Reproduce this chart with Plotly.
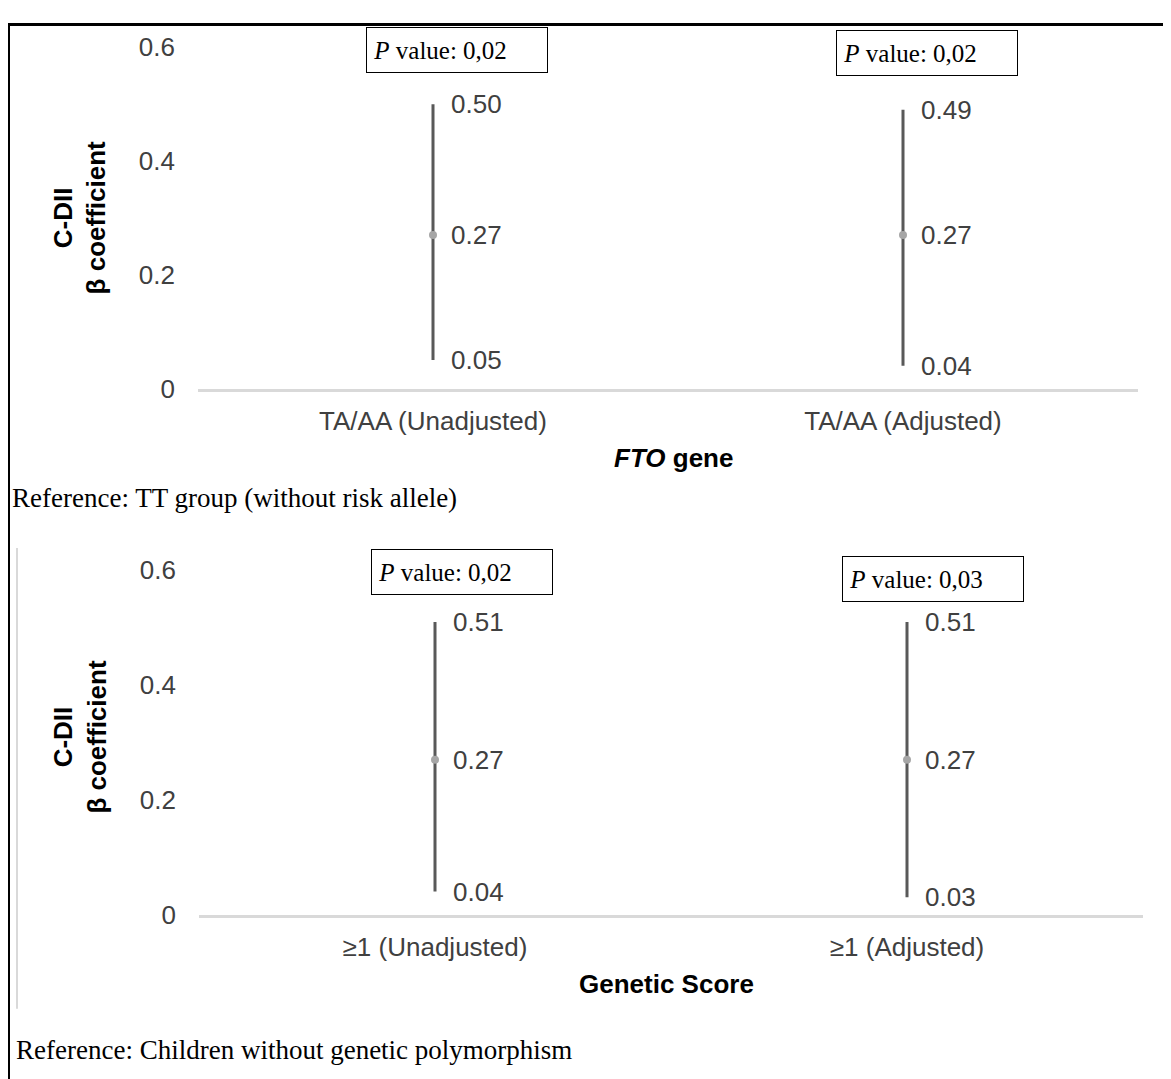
import plotly.graph_objects as go

W, H = 1171, 1079
OFF = 8  # page body margin offset

# ---------------- data ----------------
fto_categories = ["TA/AA (Unadjusted)", "TA/AA (Adjusted)"]
fto_beta = [0.27, 0.27]
fto_lower = [0.05, 0.04]
fto_upper = [0.50, 0.49]
fto_pvalues = ["0,02", "0,02"]

gs_categories = ["≥1 (Unadjusted)", "≥1 (Adjusted)"]
gs_beta = [0.27, 0.27]
gs_lower = [0.04, 0.03]
gs_upper = [0.51, 0.51]
gs_pvalues = ["0,02", "0,03"]

y_ticks = [0, 0.2, 0.4, 0.6]
y_ticktext = ["0", "0.2", "0.4", "0.6"]

SANS = "Liberation Sans, Arial, sans-serif"
SERIF = "Liberation Serif, Times New Roman, serif"
LABEL_COLOR = "#404040"
BAR_COLOR = "#595959"
AXIS_COLOR = "#d9d9d9"
FS = 26


def px_x(p):
    return (p - OFF) / W


def px_y(p):
    return 1 - (p - OFF) / H


fig = go.Figure()

panels = [
    dict(cats=fto_categories, beta=fto_beta, lo=fto_lower, hi=fto_upper, pv=fto_pvalues,
         xa="x", ya="y", pv_y=[0.596, 0.590], pv_shift=[24, 24]),
    dict(cats=gs_categories, beta=gs_beta, lo=gs_lower, hi=gs_upper, pv=gs_pvalues,
         xa="x2", ya="y2", pv_y=[0.597, 0.585], pv_shift=[27, 26]),
]

annotations = []
for pnl in panels:
    xs = list(range(len(pnl["cats"])))
    fig.add_trace(go.Scatter(
        x=xs, y=pnl["beta"], mode="markers",
        xaxis=pnl["xa"], yaxis=pnl["ya"],
        marker=dict(size=8, color="#a6a6a6"),
        error_y=dict(type="data", symmetric=False,
                     array=[h - b for h, b in zip(pnl["hi"], pnl["beta"])],
                     arrayminus=[b - l for b, l in zip(pnl["beta"], pnl["lo"])],
                     width=0, thickness=3, color=BAR_COLOR),
        showlegend=False, hoverinfo="skip",
    ))
    for i, x in enumerate(xs):
        for v in (pnl["hi"][i], pnl["beta"][i], pnl["lo"][i]):
            annotations.append(dict(
                x=x, y=v, xref=pnl["xa"], yref=pnl["ya"], text=f"{v:.2f}",
                showarrow=False, xanchor="left", yanchor="middle", xshift=16,
                font=dict(family=SANS, size=FS, color=LABEL_COLOR),
            ))
        annotations.append(dict(
            x=x, y=pnl["pv_y"][i], xref=pnl["xa"], yref=pnl["ya"],
            text=f"&nbsp;<i>P</i> value: {pnl['pv'][i]}",
            showarrow=False, xanchor="center", yanchor="middle", xshift=pnl["pv_shift"][i],
            width=178, height=42, align="left", valign="middle",
            bordercolor="black", borderwidth=1, borderpad=1, bgcolor="white",
            font=dict(family=SERIF, size=25, color="black"),
        ))

# axis titles and captions
annotations += [
    dict(x=px_x(80), y=px_y(209), xref="paper", yref="paper", text="<b>C-DII<br>β coefficient</b>",
         textangle=-90, showarrow=False, xanchor="center", yanchor="middle",
         font=dict(family=SANS, size=FS, color="black")),
    dict(x=px_x(80), y=px_y(743), xref="paper", yref="paper", text="<b>C-DII<br>β coefficient</b>",
         textangle=-90, showarrow=False, xanchor="center", yanchor="middle",
         font=dict(family=SANS, size=FS, color="black")),
    dict(x=px_x(673), y=px_y(455), xref="paper", yref="paper", text="<b><i>FTO</i> gene</b>",
         showarrow=False, xanchor="center", yanchor="middle",
         font=dict(family=SANS, size=FS, color="black")),
    dict(x=px_x(667), y=px_y(996), xref="paper", yref="paper", text="<b>Genetic Score</b>",
         showarrow=False, xanchor="center", yanchor="middle",
         font=dict(family=SANS, size=FS, color="black")),
    dict(x=px_x(10), y=px_y(497), xref="paper", yref="paper",
         text="Reference: TT group (without risk allele)",
         showarrow=False, xanchor="left", yanchor="middle",
         font=dict(family=SERIF, size=27, color="black")),
    dict(x=px_x(14), y=px_y(1064), xref="paper", yref="paper",
         text="Reference: Children without genetic polymorphism",
         showarrow=False, xanchor="left", yanchor="middle",
         font=dict(family=SERIF, size=27, color="black")),
]

shapes = [
    # outer frame
    dict(type="line", xref="paper", yref="paper", x0=px_x(8.5), x1=px_x(8.5), y0=-0.02, y1=px_y(8),
         line=dict(color="black", width=3)),
    dict(type="line", xref="paper", yref="paper", x0=px_x(7), x1=1.02, y0=px_y(9.5), y1=px_y(9.5),
         line=dict(color="black", width=3)),
    # inner chart-area edge of bottom panel
    dict(type="line", xref="paper", yref="paper", x0=px_x(17), x1=px_x(17), y0=px_y(1022), y1=px_y(548),
         line=dict(color=AXIS_COLOR, width=2)),
]

xaxis_common = dict(
    range=[-0.5, 1.5], tickmode="array", tickvals=[0, 1],
    showline=True, linecolor=AXIS_COLOR, linewidth=3, showgrid=False, zeroline=False,
    ticks="", tickfont=dict(family=SANS, size=FS, color=LABEL_COLOR), ticklabelstandoff=7,
    fixedrange=True,
)
yaxis_common = dict(
    range=[0, 0.6], tickmode="array", tickvals=y_ticks, ticktext=y_ticktext,
    showline=False, showgrid=False, zeroline=False, ticks="",
    tickfont=dict(family=SANS, size=FS, color=LABEL_COLOR), ticklabelstandoff=22,
    fixedrange=True,
)

fig.update_layout(
    width=W, height=H,
    margin=dict(l=0, r=0, t=0, b=0),
    paper_bgcolor="white", plot_bgcolor="white",
    xaxis=dict(xaxis_common, domain=[px_x(198), px_x(1138)], anchor="y", ticktext=fto_categories),
    yaxis=dict(yaxis_common, domain=[px_y(384), px_y(33)], anchor="x"),
    xaxis2=dict(xaxis_common, domain=[px_x(199), px_x(1143)], anchor="y2", ticktext=gs_categories),
    yaxis2=dict(yaxis_common, domain=[px_y(925), px_y(571)], anchor="x2"),
    annotations=annotations,
    shapes=shapes,
    showlegend=False,
)

fig.write_html("out.html")
